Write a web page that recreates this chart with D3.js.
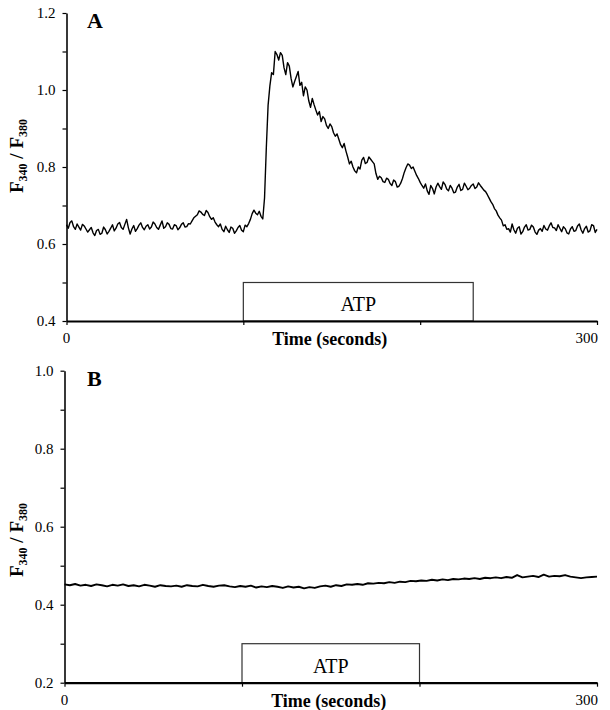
<!DOCTYPE html>
<html>
<head>
<meta charset="utf-8">
<script src="https://cdn.jsdelivr.net/npm/d3@7"></script>
<style>
  body { margin: 0; background: #fff; }
  text { font-family: "Liberation Serif", "Times New Roman", serif; fill: #000; }
</style>
</head>
<body>
<div id="grafico"></div>
<script>
// datos (F340/F380 frente al tiempo)
const tiempoA = d3.range(0, 301, 1);
const ratioA = [
  0.650, 0.641, 0.656, 0.660, 0.645, 0.638, 0.652, 0.644, 0.636, 0.651,
  0.647, 0.639, 0.631, 0.637, 0.643, 0.629, 0.622, 0.635, 0.638, 0.625,
  0.628, 0.644, 0.637, 0.626, 0.633, 0.641, 0.650, 0.634, 0.641, 0.652,
  0.656, 0.643, 0.638, 0.651, 0.664, 0.642, 0.626, 0.639, 0.648, 0.633,
  0.640, 0.649, 0.655, 0.643, 0.637, 0.646, 0.650, 0.639, 0.644, 0.657,
  0.652, 0.643, 0.638, 0.649, 0.660, 0.641, 0.645, 0.655, 0.651, 0.640,
  0.639, 0.650, 0.648, 0.637, 0.642, 0.651, 0.655, 0.644, 0.645, 0.653,
  0.652, 0.660, 0.668, 0.672, 0.676, 0.686, 0.683, 0.677, 0.674, 0.687,
  0.682, 0.671, 0.664, 0.668, 0.657, 0.650, 0.645, 0.652, 0.638, 0.632,
  0.646, 0.637, 0.630, 0.644, 0.641, 0.628, 0.634, 0.643, 0.648, 0.636,
  0.632, 0.649, 0.645, 0.653, 0.664, 0.679, 0.688, 0.680, 0.676, 0.685,
  0.672, 0.665, 0.720, 0.850, 0.960, 1.010, 1.045, 1.040, 1.100, 1.092,
  1.078, 1.097, 1.090, 1.058, 1.040, 1.071, 1.062, 1.030, 1.008, 1.022,
  1.035, 1.048, 1.012, 1.020, 0.985, 1.008, 1.000, 0.972, 0.955, 0.978,
  0.962, 0.948, 0.935, 0.944, 0.918, 0.931, 0.925, 0.908, 0.900, 0.912,
  0.905, 0.889, 0.880, 0.886, 0.872, 0.858, 0.850, 0.861, 0.842, 0.826,
  0.808, 0.815, 0.800, 0.790, 0.785, 0.800, 0.795, 0.818, 0.825, 0.809,
  0.812, 0.826, 0.820, 0.814, 0.808, 0.783, 0.768, 0.776, 0.772, 0.762,
  0.760, 0.771, 0.768, 0.757, 0.752, 0.766, 0.762, 0.748, 0.750, 0.758,
  0.770, 0.786, 0.798, 0.808, 0.805, 0.796, 0.800, 0.789, 0.778, 0.770,
  0.760, 0.752, 0.745, 0.756, 0.738, 0.729, 0.752, 0.744, 0.730, 0.748,
  0.758, 0.749, 0.742, 0.761, 0.755, 0.743, 0.738, 0.752, 0.745, 0.733,
  0.735, 0.748, 0.755, 0.739, 0.742, 0.758, 0.750, 0.741, 0.745, 0.752,
  0.756, 0.744, 0.748, 0.759, 0.752, 0.746, 0.740, 0.736, 0.728, 0.719,
  0.710, 0.703, 0.692, 0.686, 0.675, 0.668, 0.662, 0.647, 0.650, 0.638,
  0.640, 0.631, 0.652, 0.637, 0.628, 0.641, 0.645, 0.626, 0.632, 0.644,
  0.650, 0.636, 0.638, 0.649, 0.644, 0.631, 0.625, 0.636, 0.640, 0.633,
  0.648, 0.639, 0.636, 0.647, 0.655, 0.643, 0.642, 0.635, 0.650, 0.641,
  0.632, 0.645, 0.640, 0.629, 0.626, 0.639, 0.645, 0.633, 0.635, 0.647,
  0.652, 0.637, 0.628, 0.640, 0.646, 0.631, 0.634, 0.650, 0.648, 0.630,
  0.638
];

const tiempoB = d3.range(0, 301, 3);
const ratioB = [
  0.452, 0.450, 0.453, 0.449, 0.451, 0.448, 0.452, 0.450, 0.447, 0.451, 0.449,
  0.452, 0.448, 0.450, 0.447, 0.451, 0.449, 0.446, 0.450, 0.448, 0.447,
  0.449, 0.446, 0.450, 0.448, 0.447, 0.451, 0.448, 0.446, 0.449, 0.450,
  0.447, 0.445, 0.448, 0.446, 0.449, 0.444, 0.447, 0.445, 0.448, 0.446,
  0.443, 0.447, 0.444, 0.446, 0.442, 0.445, 0.443, 0.447, 0.449, 0.446,
  0.450, 0.448, 0.452, 0.451, 0.453, 0.451, 0.455, 0.454, 0.456, 0.455,
  0.458, 0.456, 0.459, 0.458, 0.461, 0.460, 0.462, 0.461, 0.464, 0.462,
  0.465, 0.463, 0.466, 0.465, 0.467, 0.466, 0.468, 0.466, 0.469, 0.468,
  0.470, 0.468, 0.471, 0.469, 0.476, 0.470, 0.472, 0.474, 0.471, 0.477,
  0.472, 0.474, 0.473, 0.476, 0.472, 0.470, 0.468, 0.470, 0.471, 0.472
];

const ticksX = [0, 100, 200, 300];
const etiquetasX = [0, 300];
const ticksYA = [0.4, 0.5, 0.6, 0.7, 0.8, 0.9, 1.0, 1.1, 1.2];
const ticksYB = [0.2, 0.3, 0.4, 0.5, 0.6, 0.7, 0.8, 0.9, 1.0];
const atpA = [100, 230, 0.5];   // inicio, fin, altura de la caja
const atpB = [100, 200, 0.3];

const svg = d3.select("#grafico").append("svg")
    .attr("width", 610)
    .attr("height", 710);

function panel(cfg) {
    let x = d3.scaleLinear().domain([0, 300]).range(cfg.rx);
    let y = d3.scaleLinear().domain(cfg.dominio).range(cfg.ry);
    let g = svg.append("g");
    let y0 = cfg.ry[0];

    // caja ATP
    g.append("rect")
        .attr("x", x(cfg.atp[0]))
        .attr("y", y(cfg.atp[2]))
        .attr("width", x(cfg.atp[1]) - x(cfg.atp[0]))
        .attr("height", y0 - y(cfg.atp[2]))
        .attr("fill", "none")
        .attr("stroke", "#333")
        .attr("stroke-width", 1.2);
    g.append("text")
        .attr("x", (x(cfg.atp[0]) + x(cfg.atp[1])) / 2)
        .attr("y", y0 - 10)
        .attr("text-anchor", "middle")
        .style("font-size", "20px")
        .text("ATP");

    // eje y: marcas cada 0.1, etiqueta cada 0.2
    let ejeY = d3.axisLeft(y)
        .tickValues(cfg.ticksY)
        .tickSize(4)
        .tickPadding(7)
        .tickSizeOuter(0)
        .tickFormat(function (d) {
            return Math.round(d * 10) % 2 === 0 ? d3.format(".1f")(d) : "";
        });
    let gy = g.append("g").attr("transform", "translate(" + cfg.rx[0] + ",0)").call(ejeY);
    gy.select(".domain").attr("stroke", "#222").attr("stroke-width", 1.8);
    gy.selectAll(".tick line").attr("stroke", "#000").attr("stroke-width", 1.2);
    gy.selectAll(".tick text")
        .style("font-size", "15px")
        .style("font-family", "'Liberation Serif', serif");

    // eje x
    let ejeX = d3.axisBottom(x)
        .tickValues(ticksX)
        .tickSize(4)
        .tickSizeOuter(0)
        .tickFormat("");
    let gx = g.append("g").attr("transform", "translate(0," + y0 + ")").call(ejeX);
    gx.select(".domain").attr("stroke", "#000").attr("stroke-width", 2.2);
    gx.selectAll(".tick line").attr("stroke", "#000").attr("stroke-width", 1.2);

    g.selectAll(".etqx").data(etiquetasX).enter().append("text")
        .attr("class", "etqx")
        .attr("x", function (d) { return d === 300 ? x(d) + 1 : x(d); })
        .attr("y", y0 + 22)
        .attr("text-anchor", function (d) { return d === 300 ? "end" : "middle"; })
        .style("font-size", "15px")
        .text(function (d) { return d; });

    g.append("text")
        .attr("x", (cfg.rx[0] + cfg.rx[1]) / 2 - 2)
        .attr("y", y0 + 24)
        .attr("text-anchor", "middle")
        .style("font-size", "18px")
        .style("font-weight", "bold")
        .text("Time (seconds)");

    // titulo del eje y con subindices
    let ty = g.append("text")
        .attr("transform", "translate(23," + cfg.cy + ") rotate(-90)")
        .attr("text-anchor", "middle")
        .style("font-size", "19px")
        .style("font-weight", "bold");
    ty.append("tspan").text("F");
    ty.append("tspan").attr("dy", 4).style("font-size", "12px").text("340");
    ty.append("tspan").attr("dy", -4).text(" / F");
    ty.append("tspan").attr("dy", 4).style("font-size", "12px").text("380");

    // letra del panel
    g.append("text")
        .attr("x", 87)
        .attr("y", cfg.ry[1] + 15)
        .style("font-size", "22px")
        .style("font-weight", "bold")
        .text(cfg.letra);

    // registro
    let linea = d3.line()
        .x(function (d, i) { return x(cfg.t[i]); })
        .y(function (d) { return y(d); });
    g.append("path")
        .datum(cfg.v)
        .attr("d", linea)
        .attr("fill", "none")
        .attr("stroke", "#000")
        .attr("stroke-width", cfg.grosor)
        .attr("stroke-linejoin", "round");
}

panel({
    letra: "A", rx: [66.5, 597], ry: [321, 13], dominio: [0.4, 1.2],
    ticksY: ticksYA, atp: atpA, t: tiempoA, v: ratioA, cy: 156, grosor: 1.4
});
panel({
    letra: "B", rx: [64.5, 597], ry: [682.7, 370.7], dominio: [0.2, 1.0],
    ticksY: ticksYB, atp: atpB, t: tiempoB, v: ratioB, cy: 540, grosor: 1.9
});
</script>
</body>
</html>
